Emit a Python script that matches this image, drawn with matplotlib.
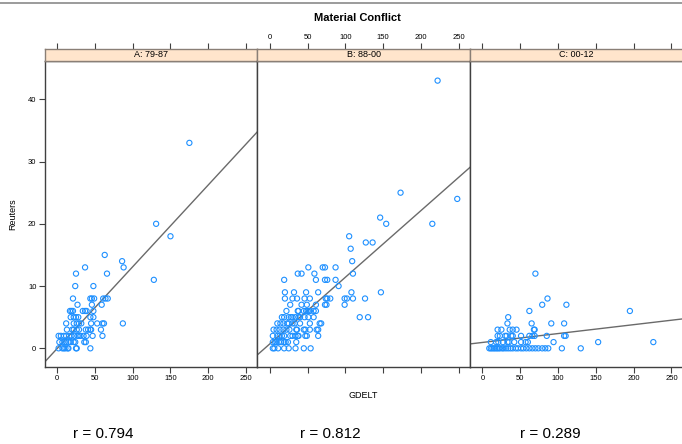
import numpy as np
import matplotlib
matplotlib.use('Agg')
import matplotlib.pyplot as plt
from matplotlib.lines import Line2D

plt.rcParams['font.family'] = ['Liberation Sans', 'DejaVu Sans']

# panel names and correlation labels
panels = ['A: 79-87', 'B: 88-00', 'C: 00-12']
r_labels = ['r = 0.794', 'r = 0.812', 'r = 0.289']

# panel A (GDELT, Reuters)
a_x = [175, 131, 150, 63, 86, 88, 37, 25, 66, 128, 24, 48,
       21, 44, 46, 49, 61, 64, 67, 27, 46, 59,
       17, 19, 21, 34, 37, 39, 48, 18, 22, 25, 28, 44, 48,
       12, 22, 26, 29, 32, 45, 53, 60, 62, 87,
       13, 20, 22, 26, 29, 38, 41, 44, 45, 58,
       2, 5, 9, 12, 16, 19, 23, 27, 29, 31, 35, 39, 47, 60,
       3, 7, 10, 12, 15, 18, 22, 24, 36, 38,
       2, 7, 9, 11, 14, 15, 25, 26, 44]
a_y = [33, 20, 18, 15, 14, 13, 13, 12, 12, 11, 10, 10,
       8, 8, 8, 8, 8, 8, 8, 7, 7, 7,
       6, 6, 6, 6, 6, 6, 6, 5, 5, 5, 5, 5, 5,
       4, 4, 4, 4, 4, 4, 4, 4, 4, 4,
       3, 3, 3, 3, 3, 3, 3, 3, 3, 3,
       2, 2, 2, 2, 2, 2, 2, 2, 2, 2, 2, 2, 2, 2,
       1, 1, 1, 1, 1, 1, 1, 1, 1, 1,
       0, 0, 0, 0, 0, 0, 0, 0, 0]

# panel B
b_x = [222, 173, 248, 146, 154, 215, 105, 127, 136, 107, 109,
       51, 70, 73, 87,
       37, 42, 59, 110,
       19, 61, 73, 76, 87,
       91,
       20, 32, 48, 64, 108, 147,
       20, 30, 36, 46, 53, 74, 76, 80, 99, 102, 110, 126,
       27, 42, 49, 61, 73, 75, 99,
       22, 37, 38, 45, 48, 50, 52, 53, 58, 61,
       16, 19, 25, 28, 30, 34, 38, 40, 46, 51, 58, 119, 130,
       10, 14, 18, 23, 25, 30, 33, 40, 53, 66, 68,
       5, 9, 13, 18, 22, 26, 35, 36, 45, 47, 53, 62, 64,
       4, 10, 13, 16, 19, 27, 30, 34, 37, 38, 47, 49, 64,
       4, 7, 9, 12, 15, 19, 21, 24, 35,
       4, 6, 11, 19, 25, 34, 45, 54]
b_y = [43, 25, 24, 21, 20, 20, 18, 17, 17, 16, 14,
       13, 13, 13, 13,
       12, 12, 12, 12,
       11, 11, 11, 11, 11,
       10,
       9, 9, 9, 9, 9, 9,
       8, 8, 8, 8, 8, 8, 8, 8, 8, 8, 8, 8,
       7, 7, 7, 7, 7, 7, 7,
       6, 6, 6, 6, 6, 6, 6, 6, 6, 6,
       5, 5, 5, 5, 5, 5, 5, 5, 5, 5, 5, 5, 5,
       4, 4, 4, 4, 4, 4, 4, 4, 4, 4, 4,
       3, 3, 3, 3, 3, 3, 3, 3, 3, 3, 3, 3, 3,
       2, 2, 2, 2, 2, 2, 2, 2, 2, 2, 2, 2, 2,
       1, 1, 1, 1, 1, 1, 1, 1, 1,
       0, 0, 0, 0, 0, 0, 0, 0]

# panel C
c_x = [70, 86, 79, 111, 62, 195, 34,
       33, 65, 91, 108,
       20, 25, 36, 40, 45, 68, 69,
       20, 23, 30, 32, 38, 40, 51, 62, 66, 69, 85, 108, 110,
       11, 18, 21, 27, 33, 35, 42, 51, 57, 60, 94, 153, 226,
       9, 11, 13, 15, 17, 19, 21, 23, 26, 28, 31, 34, 37, 40,
       44, 47, 51, 54, 58, 62, 66, 70, 74, 79, 83, 87, 105, 130]
c_y = [12, 8, 7, 7, 6, 6, 5,
       4, 4, 4, 4,
       3, 3, 3, 3, 3, 3, 3,
       2, 2, 2, 2, 2, 2, 2, 2, 2, 2, 2, 2, 2,
       1, 1, 1, 1, 1, 1, 1, 1, 1, 1, 1, 1, 1,
       0, 0, 0, 0, 0, 0, 0, 0, 0, 0, 0, 0, 0, 0,
       0, 0, 0, 0, 0, 0, 0, 0, 0, 0, 0, 0, 0, 0]

xs = [a_x, b_x, c_x]
ys = [a_y, b_y, c_y]

x_ticks = [0, 50, 100, 150, 200, 250]
y_ticks = [0, 10, 20, 30, 40]

W, H = 682, 444
fig = plt.figure(figsize=(W / 100, H / 100), dpi=100)

# thin grey line along the top of the screenshot
fig.add_artist(Line2D([0, 1], [1 - 2.7 / H, 1 - 2.7 / H], color='#8a8a8a', lw=1.2))

edge = '#404040'
left0 = 44.7
pw = 212.7
top_px, bot_px = 60.7, 367
strip_top = 49

for i in range(3):
    left = (left0 + i * pw) / W
    ax = fig.add_axes([left, 1 - bot_px / H, pw / W, (bot_px - top_px) / H])
    ax.scatter(xs[i], ys[i], s=14, facecolors='none', edgecolors='#1e90ff', linewidths=0.8, zorder=3)

    # least squares line through the panel
    m, b = np.polyfit(xs[i], ys[i], 1)
    xx = np.array([-20, 270])
    ax.plot(xx, m * xx + b, color='#6a6a6a', lw=1.0, zorder=2)

    ax.set_xlim(-16.4, 265)
    ax.set_ylim(-3, 46.2)
    ax.set_xticks(x_ticks)
    ax.tick_params(axis='x', direction='out', length=4, width=0.8, color=edge,
                   labelsize=5.5, pad=2, labelbottom=(i != 1))
    if i == 0:
        ax.set_yticks(y_ticks)
        ax.tick_params(axis='y', direction='out', length=4, width=0.8, color=edge,
                       labelsize=5.5, pad=2)
        ax.set_ylabel('Reuters', fontsize=6.5, labelpad=8)
    else:
        ax.set_yticks([])
    for s in ax.spines.values():
        s.set_color(edge)
        s.set_linewidth(1.0)

    # strip on top of each panel
    st = fig.add_axes([left, 1 - top_px / H, pw / W, (top_px - strip_top) / H])
    st.set_facecolor('#ffe5cc')
    st.set_xlim(-16.4, 265)
    st.set_ylim(0, 1)
    st.set_yticks([])
    st.set_xticks(x_ticks)
    st.tick_params(axis='x', direction='out', length=4, width=0.8, color=edge,
                   labelsize=5.5, pad=2, bottom=False, labelbottom=False,
                   top=True, labeltop=(i == 1))
    for s in st.spines.values():
        s.set_color('#8a7f76')
        s.set_linewidth(1.0)
    st.text(0.5, 0.5, panels[i], transform=st.transAxes, ha='center', va='center', fontsize=6.5)

    # correlation under each panel
    fig.text([103, 330, 550][i] / W, 1 - 434 / H, r_labels[i], ha='center', va='center', fontsize=11)

fig.text(357 / W, 1 - 18 / H, 'Material Conflict', ha='center', va='center', fontsize=8, fontweight='bold')
fig.text(363 / W, 1 - 395 / H, 'GDELT', ha='center', va='center', fontsize=6.5)

fig.savefig('out.png', dpi=100)
